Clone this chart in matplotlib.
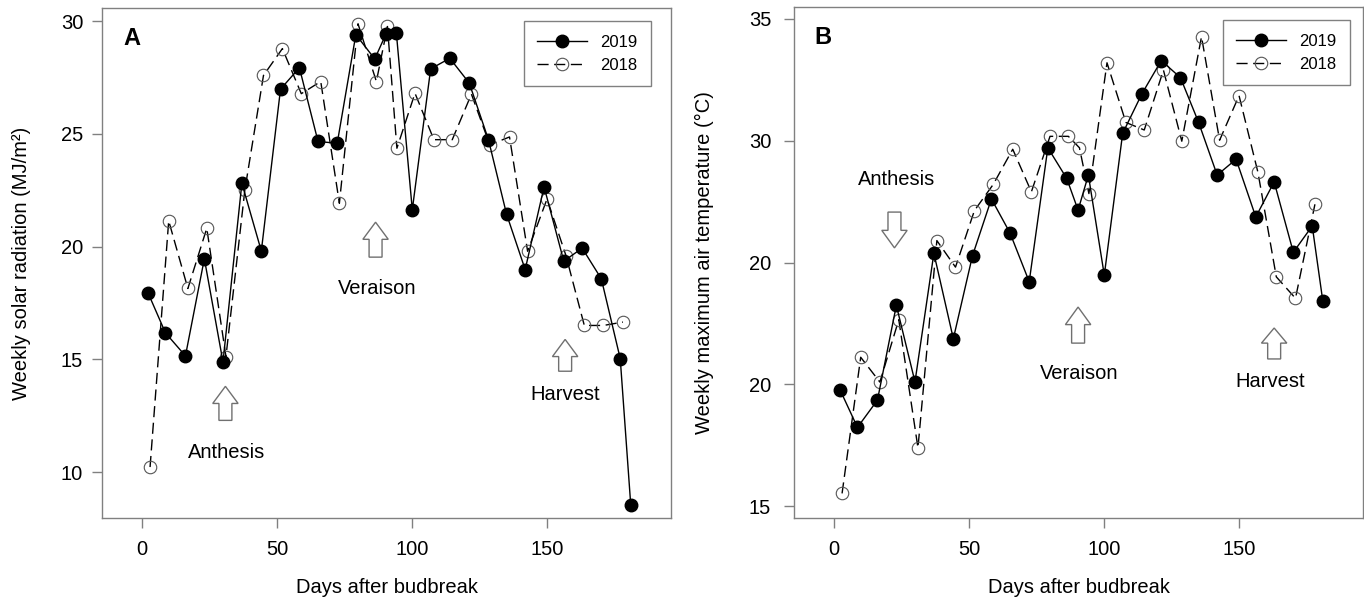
import matplotlib
matplotlib.use("Agg")
import matplotlib.pyplot as plt
from matplotlib.patches import FancyArrow

plt.rcParams['font.family'] = ['Liberation Sans', 'DejaVu Sans']

# days after budbreak for each sampling week
days_2019 = [2.3, 8.7, 16.1, 23.1, 30.0, 37.0, 44.2, 51.3, 58.3, 65.2, 72.3, 79.2, 86.2, 90.4,
             94.2, 100.1, 106.9, 114.0, 121.2, 128.3, 135.0, 141.9, 148.9, 156.2, 163.0, 170.1,
             177.1, 181.0]
days_2018 = [3.0, 9.9, 17.0, 24.0, 31.1, 38.1, 45.0, 52.0, 59.0, 66.2, 73.1, 80.0, 86.8, 90.9,
             94.4, 101.1, 108.1, 114.9, 122.0, 128.8, 136.1, 142.8, 150.0, 157.0, 163.8, 170.9,
             178.1]

# panel A: weekly solar radiation (MJ/m2)
rad_2019 = [17.93, 16.17, 15.15, 19.46, 14.88, 22.81, 19.80, 26.98, 27.93, 24.66, 24.58, 29.40,
            28.32, 29.44, 29.47, 21.63, 27.88, 28.35, 27.25, 24.74, 21.44, 18.98, 22.65, 19.35,
            19.93, 18.57, 15.03, 8.53]
rad_2018 = [10.22, 21.14, 18.14, 20.81, 15.12, 22.51, 27.59, 28.78, 26.78, 27.32, 21.92, 29.88,
            27.32, 29.76, 24.36, 26.80, 24.74, 24.74, 26.76, 24.51, 24.86, 19.79, 22.11, 19.60,
            16.50, 16.50, 16.65]

# panel B: weekly maximum air temperature (C)
tmax_2019 = [19.76, 18.23, 19.35, 23.24, 20.10, 25.38, 21.87, 25.28, 27.61, 26.21, 24.21, 29.71,
             28.45, 27.15, 28.59, 24.48, 30.30, 31.92, 33.29, 32.59, 30.76, 28.59, 29.24, 26.87,
             28.31, 25.42, 26.50, 23.43]
tmax_2018 = [15.52, 21.11, 20.09, 22.65, 17.39, 25.90, 24.81, 27.13, 28.21, 29.65, 27.90, 30.18,
             30.18, 29.71, 27.83, 33.20, 30.75, 30.44, 32.90, 29.98, 34.27, 30.02, 31.85, 28.70,
             24.41, 23.53, 27.39]

x_ticks = [0, 50, 100, 150]
a_yticks = [10, 15, 20, 25, 30]
b_yticks = [15, 20, 25, 30, 35]
b_yticklabels = ['15', '20', '20', '30', '35']

GREY = '#808080'
FS = 14.5

fig = plt.figure(figsize=(13.64, 6.01), dpi=100)
axA = fig.add_axes([102 / 1364, 83 / 601, 569 / 1364, 510 / 601])
axB = fig.add_axes([794 / 1364, 83 / 601, 569 / 1364, 511 / 601])


def draw_series(ax, y19, y18):
    ax.plot(days_2018, y18, color='black', lw=1.0, dashes=(8, 4), marker='o', ms=9,
            mfc='none', mec='#555555', mew=0.8, label='2018')
    ax.plot(days_2019, y19, color='black', lw=1.0, marker='o', ms=9,
            mfc='black', mec='black', label='2019')


def arrow(ax, x, y0, y1, hl):
    ax.add_patch(FancyArrow(x, y0, 0, y1 - y0, width=4.8, head_width=9.4, head_length=hl,
                            length_includes_head=True, fc='white', ec='#707070', lw=1.0))


def style(ax, ypad, legend_x):
    for sp in ax.spines.values():
        sp.set_color(GREY)
        sp.set_linewidth(1.0)
    ax.tick_params(direction='out', length=7, width=1, color=GREY, labelsize=FS)
    ax.tick_params(axis='x', pad=9)
    ax.tick_params(axis='y', pad=ypad)
    ax.set_xticks(x_ticks)
    ax.set_xlim(-14.8, 195.9)
    ax.set_xlabel('Days after budbreak', fontsize=FS)
    ax.xaxis.set_label_coords(0.5, -0.118)
    handles, labels = ax.get_legend_handles_labels()
    leg = ax.legend(handles[::-1], labels[::-1], loc='upper right', fontsize=12,
                    fancybox=False, edgecolor=GREY, framealpha=1, handlelength=3.0,
                    handletextpad=0.8, labelspacing=0.5, borderpad=0.8, borderaxespad=0,
                    bbox_to_anchor=(legend_x, 0.974))
    leg.get_frame().set_linewidth(1.0)


# ---- panel A ----
draw_series(axA, rad_2019, rad_2018)
axA.set_ylim(7.96, 30.58)
axA.set_yticks(a_yticks)
axA.set_ylabel('Weekly solar radiation (MJ/m²)', fontsize=FS)
axA.yaxis.set_label_coords(-0.125, 0.5)
style(axA, 6.5, 0.965)
axA.text(0.037, 0.962, 'A', transform=axA.transAxes, fontsize=17, fontweight='bold',
         ha='left', va='top')
arrow(axA, 30.9, 12.29, 13.80, 0.76)
arrow(axA, 86.5, 19.53, 21.08, 0.76)
arrow(axA, 156.7, 14.47, 15.88, 0.76)
axA.text(31.5, 10.87, 'Anthesis', fontsize=FS, ha='center', va='center')
axA.text(87.1, 18.16, 'Veraison', fontsize=FS, ha='center', va='center')
axA.text(156.9, 13.45, 'Harvest', fontsize=FS, ha='center', va='center')

# ---- panel B ----
draw_series(axB, tmax_2019, tmax_2018)
axB.set_ylim(14.51, 35.49)
axB.set_yticks(b_yticks)
axB.set_yticklabels(b_yticklabels)
axB.set_ylabel('Weekly maximum air temperature (°C)', fontsize=FS)
axB.yaxis.set_label_coords(-0.141, 0.5)
style(axB, 9.5, 0.977)
axB.text(0.035, 0.962, 'B', transform=axB.transAxes, fontsize=17, fontweight='bold',
         ha='left', va='top')
arrow(axB, 22.4, 27.07, 25.60, 0.72)
arrow(axB, 90.4, 21.69, 23.17, 0.72)
arrow(axB, 163.0, 21.04, 22.31, 0.62)
axB.text(23.1, 28.39, 'Anthesis', fontsize=FS, ha='center', va='center')
axB.text(90.9, 20.46, 'Veraison', fontsize=FS, ha='center', va='center')
axB.text(161.6, 20.13, 'Harvest', fontsize=FS, ha='center', va='center')

fig.savefig('out.png', dpi=100)
